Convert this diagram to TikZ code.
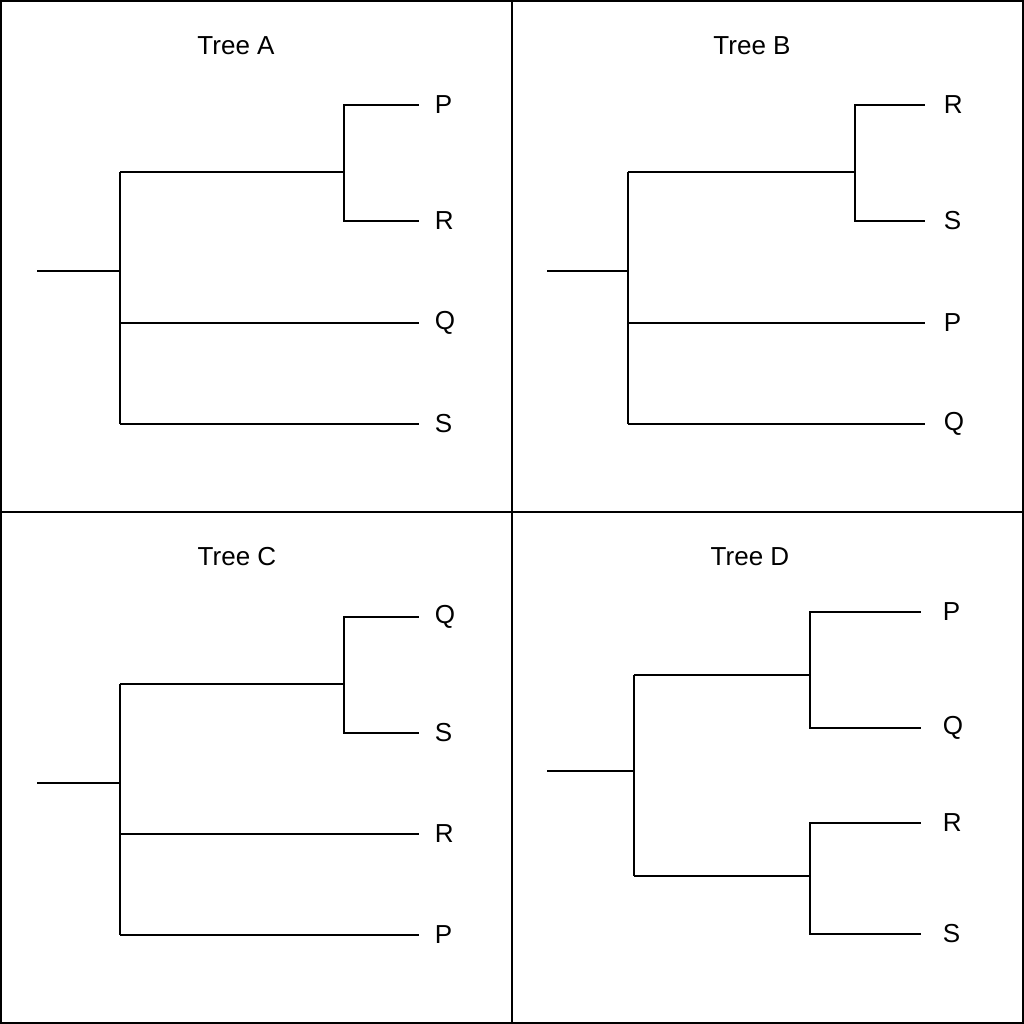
\documentclass[tikz,border=0pt]{standalone}
\usepackage{fontspec}
\setmainfont{Liberation Sans}
\begin{document}
\begin{tikzpicture}[x=0.025cm,y=-0.025cm,line width=1.2pt,
  leaf/.style={anchor=west,inner sep=0pt,font=\fontsize{18.5}{22}\selectfont},
  title/.style={inner sep=0pt,font=\fontsize{18.5}{22}\selectfont}]
\useasboundingbox (0,0) rectangle (1024,1024);
\draw (1,1) rectangle (1023,1023);
\draw (512,1) -- (512,1023);
\draw (1,512) -- (1023,512);

% Tree A
\node[title] (tA) at (236,46) {Tree A};
\node[leaf] (aP) at (434,105) {P};
\node[leaf] (aR) at (434,221) {R};
\node[leaf] (aQ) at (434,323) {Q};
\node[leaf] (aS) at (434,424) {S};
\draw (37,271) -- (120,271);
\draw (120,172) -- (120,424);
\draw (120,172) -- (344,172);
\draw ([xshift=-11]aP.west) -- (344,105) -- (344,221) -- ([xshift=-11]aR.west);
\draw (120,323) -- ([xshift=-11]aQ.west);
\draw (120,424) -- ([xshift=-11]aS.west);

% Tree B
\node[title] (tB) at (752,46) {Tree B};
\node[leaf] (bR) at (943,105) {R};
\node[leaf] (bS) at (943,221) {S};
\node[leaf] (bP) at (943,323) {P};
\node[leaf] (bQ) at (943,424) {Q};
\draw (547,271) -- (628,271);
\draw (628,172) -- (628,424);
\draw (628,172) -- (855,172);
\draw ([xshift=-13]bR.west) -- (855,105) -- (855,221) -- ([xshift=-13]bS.west);
\draw (628,323) -- ([xshift=-13]bP.west);
\draw (628,424) -- ([xshift=-13]bQ.west);

% Tree C
\node[title] (tC) at (237,557) {Tree C};
\node[leaf] (cQ) at (434,617) {Q};
\node[leaf] (cS) at (434,733) {S};
\node[leaf] (cR) at (434,834) {R};
\node[leaf] (cP) at (434,935) {P};
\draw (37,783) -- (120,783);
\draw (120,684) -- (120,935);
\draw (120,684) -- (344,684);
\draw ([xshift=-11]cQ.west) -- (344,617) -- (344,733) -- ([xshift=-11]cS.west);
\draw (120,834) -- ([xshift=-11]cR.west);
\draw (120,935) -- ([xshift=-11]cP.west);

% Tree D
\node[title] (tD) at (750,557) {Tree D};
\node[leaf] (dP) at (942,612) {P};
\node[leaf] (dQ) at (942,728) {Q};
\node[leaf] (dR) at (942,823) {R};
\node[leaf] (dS) at (942,934) {S};
\draw (547,771) -- (634,771);
\draw (634,675) -- (634,876);
\draw (634,675) -- (810,675);
\draw (634,876) -- (810,876);
\draw ([xshift=-15]dP.west) -- (810,612) -- (810,728) -- ([xshift=-15]dQ.west);
\draw ([xshift=-15]dR.west) -- (810,823) -- (810,934) -- ([xshift=-15]dS.west);
\end{tikzpicture}
\end{document}
